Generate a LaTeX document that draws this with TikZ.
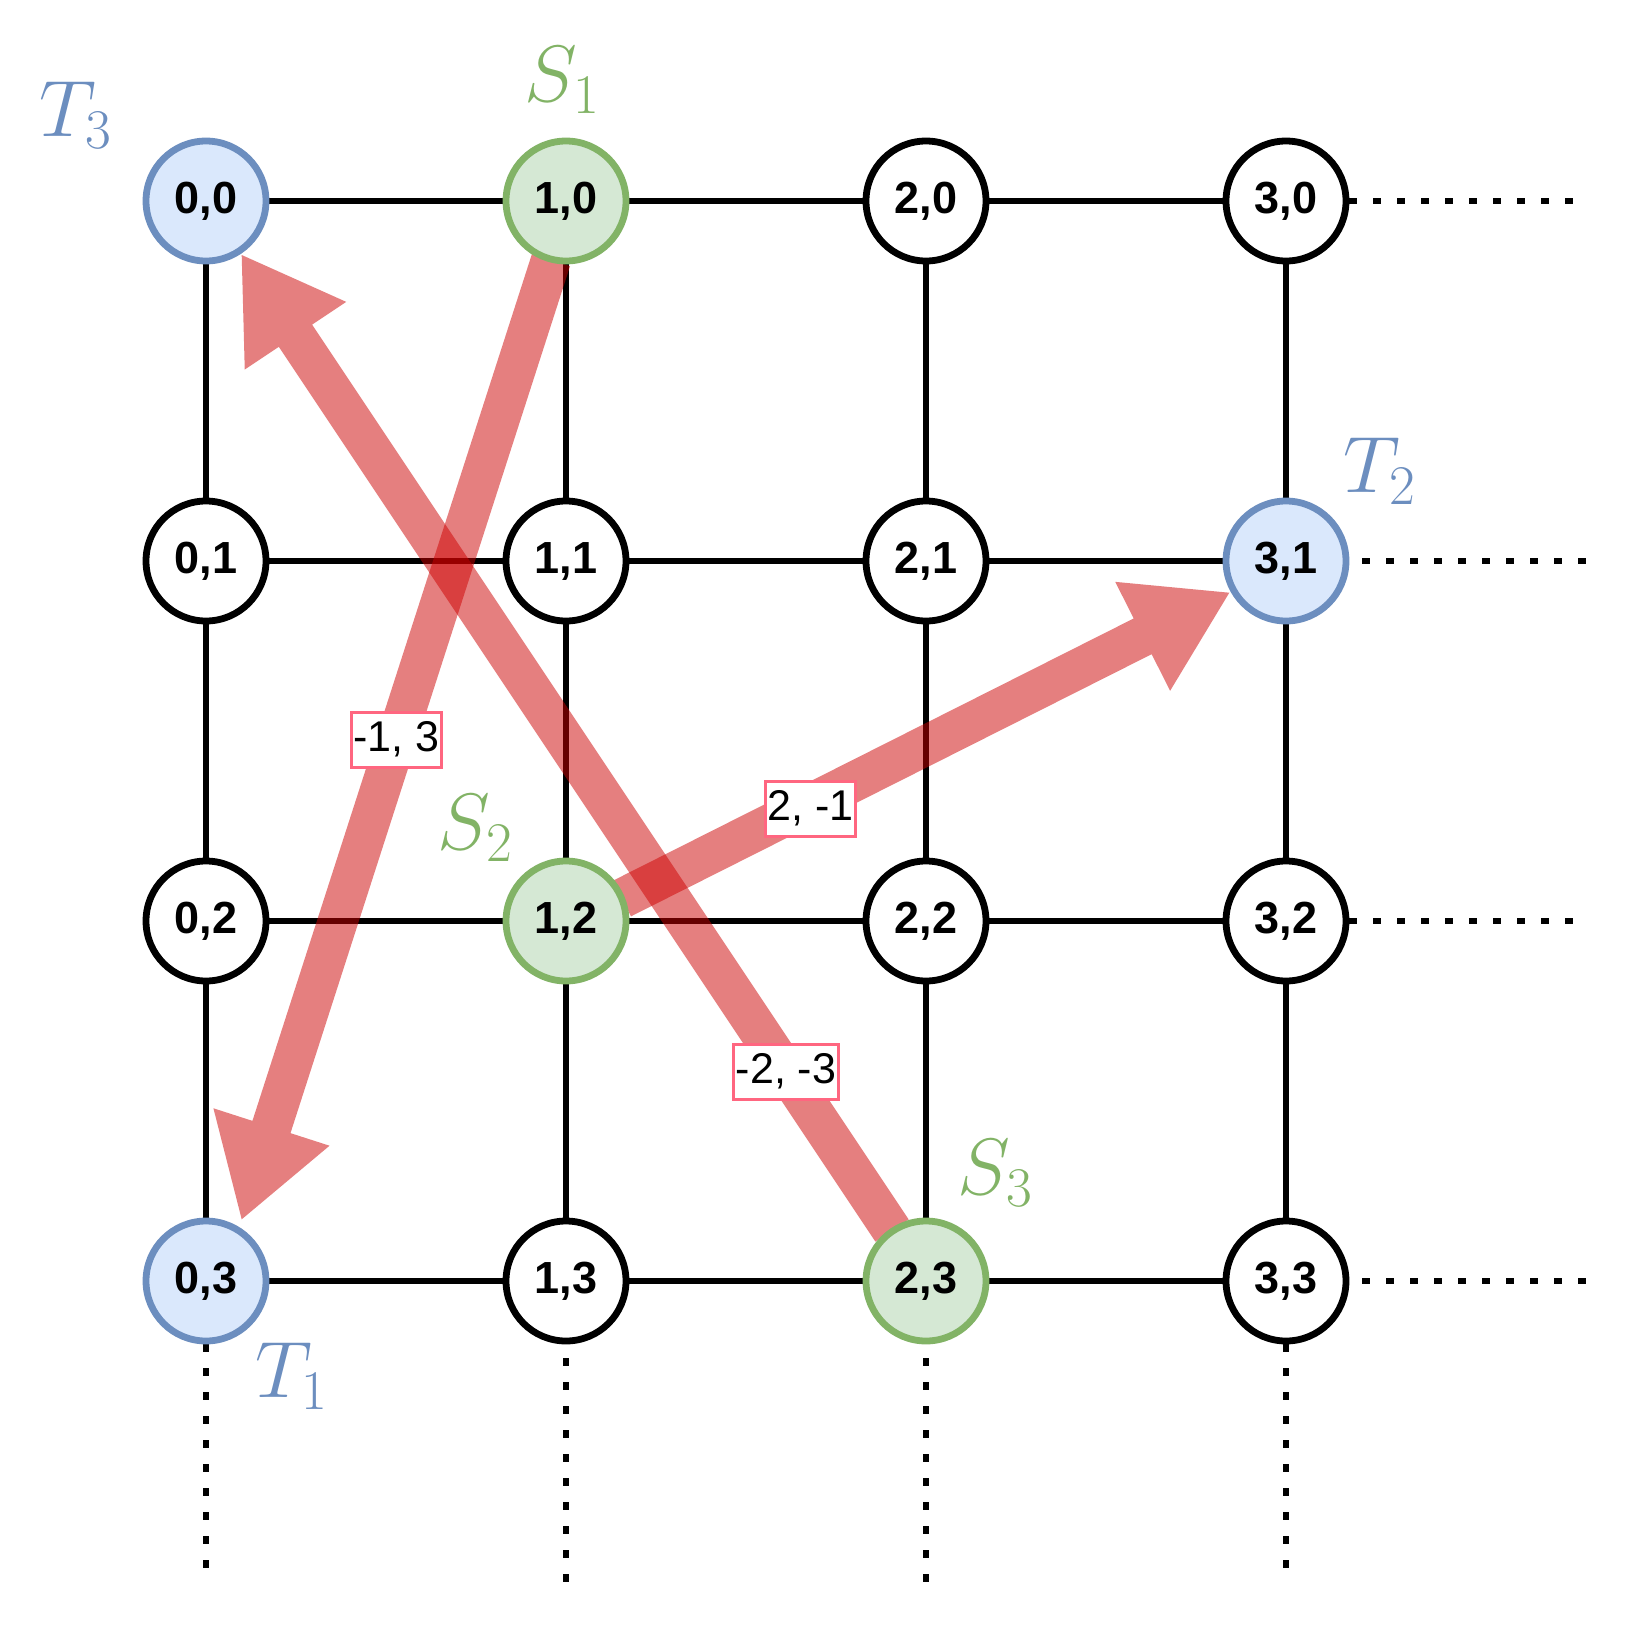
\RequirePackage{fix-cm}
\documentclass[tikz,border=0pt]{standalone}
\usepackage{fontspec}
\newfontfamily\arialfont{Liberation Sans}
\usetikzlibrary{calc}
\definecolor{bluefill}{HTML}{DAE8FC}
\definecolor{bluestroke}{HTML}{6C8EBF}
\definecolor{greenfill}{HTML}{D5E8D4}
\definecolor{greenstroke}{HTML}{82B366}
\definecolor{arrowred}{RGB}{204,0,0}
\definecolor{labelpink}{HTML}{FF6680}
\pgfdeclarelayer{gridlayer}
\pgfdeclarelayer{arrowlayer}
\pgfsetlayers{gridlayer,arrowlayer,main}
\tikzset{
  gridnode/.style={circle, draw=black, fill=white, line width=6.8pt, minimum size=120pt, inner sep=0pt,
    font=\arialfont\bfseries\fontsize{45}{52}\selectfont},
  tnode/.style={gridnode, draw=bluestroke, fill=bluefill},
  snode/.style={gridnode, draw=greenstroke, fill=greenfill},
  gridline/.style={line width=6.8pt, draw=black},
  dotline/.style={line width=6.8pt, draw=black, dash pattern=on 7.5pt off 16.5pt},
  tlabel/.style={text=bluestroke, inner sep=0pt, font=\fontsize{80}{92}\selectfont},
  slabel/.style={tlabel, text=greenstroke},
  vlabel/.style={draw=labelpink, line width=3pt, fill=white, inner xsep=2pt, inner ysep=0pt,
    minimum height=55pt, font=\arialfont\fontsize{43}{50}\selectfont},
  flexfill/.style={fill=arrowred, fill opacity=0.5}
}
% flex arrow from #1 to #2: shaft half width 20, head half width 61, head length 97
\newcommand\flexarrow[2]{%
  \path ($(#2)!97pt!(#1)$) coordinate (#1-base);
  \fill[flexfill] ($(#1)!20pt!90:(#2)$) -- ($(#1-base)!20pt!90:(#2)$) -- ($(#1-base)!61pt!90:(#2)$)
    -- (#2) -- ($(#1-base)!61pt!-90:(#2)$) -- ($(#1-base)!20pt!-90:(#2)$) -- ($(#1)!20pt!-90:(#2)$) -- cycle;
}
\begin{document}
\begin{tikzpicture}[x=1pt,y=-1pt]
\useasboundingbox (0,0) rectangle (1632,1628);
% nodes
\foreach \i/\j/\s in {0/0/tnode,1/0/snode,2/0/gridnode,3/0/gridnode,
                      0/1/gridnode,1/1/gridnode,2/1/gridnode,3/1/tnode,
                      0/2/gridnode,1/2/snode,2/2/gridnode,3/2/gridnode,
                      0/3/tnode,1/3/gridnode,2/3/snode,3/3/gridnode}
  \node[\s] (n-\i-\j) at ({206+360*\i},{201+360*\j}) {\i,\j};
% grid lines
\begin{pgfonlayer}{gridlayer}
\foreach \a in {0,1,2}{
  \foreach \b in {0,1,2,3}{
    \pgfmathtruncatemacro\c{\a+1}
    \draw[gridline] (n-\a-\b) -- (n-\c-\b);
    \draw[gridline] (n-\b-\a) -- (n-\b-\c);
  }
}
% dotted continuations
\coordinate (r0) at (1573,201);
\coordinate (r1) at (1586,561);
\coordinate (r2) at (1573,921);
\coordinate (r3) at (1586,1281);
\coordinate (c0) at (206,1568);
\coordinate (c1) at (566,1582);
\coordinate (c2) at (926,1582);
\coordinate (c3) at (1286,1568);
\draw[dotline] (n-3-0) -- (r0);
\draw[dotline, shorten <=13pt] (n-3-1) -- (r1);
\draw[dotline] (n-3-2) -- (r2);
\draw[dotline, shorten <=13pt] (n-3-3) -- (r3);
\draw[dotline] (n-0-3) -- (c0);
\draw[dotline, shorten <=14pt] (n-1-3) -- (c1);
\draw[dotline, shorten <=14pt] (n-2-3) -- (c2);
\draw[dotline] (n-3-3) -- (c3);
\end{pgfonlayer}
% arrow end points
\coordinate (as) at ($(n-1-0)+(-15,59)$);
\coordinate (at) at ($(n-0-3)+(35.7,-61.7)$);
\coordinate (bs) at ($(n-2-3)+(-34,-50.5)$);
\coordinate (bt) at ($(n-0-0)+(35.7,54)$);
\coordinate (cs) at ($(n-1-2)+(56,-22.5)$);
\coordinate (ct) at ($(n-3-1)+(-56.7,31.7)$);
\begin{pgfonlayer}{arrowlayer}
\flexarrow{as}{at}
\flexarrow{bs}{bt}
\flexarrow{cs}{ct}
\end{pgfonlayer}
% arrow labels
\node[vlabel] (la) at ($(as)!0.5!(at)$) {-1, 3};
\node[vlabel] (lb) at ($(bs)!0.163!(bt)$) {-2, -3};
\node[vlabel, yshift=-5pt] (lc) at ($(cs)!0.31!(ct)$) {2, -1};
% S / T labels
\node[tlabel] (t3) at (76,115) {$T_3$};
\node[slabel] (s1) at (562,80) {$S_1$};
\node[tlabel] (t2) at (1380,471) {$T_2$};
\node[slabel] (s2) at (475,828) {$S_2$};
\node[slabel] (s3) at (995,1173) {$S_3$};
\node[tlabel] (t1) at (292,1376) {$T_1$};
\end{tikzpicture}
\end{document}
